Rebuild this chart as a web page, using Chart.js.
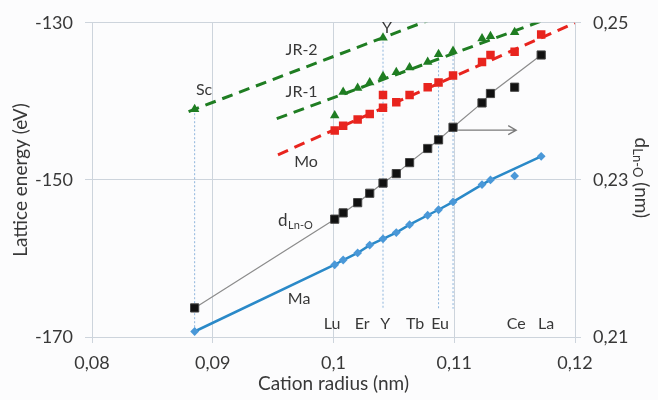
<!DOCTYPE html>
<html><head><meta charset="utf-8">
<script src="https://cdn.jsdelivr.net/npm/chart.js@4"></script>
<style>html,body{margin:0;padding:0;background:#fcfcfd}#c{display:block}</style>
</head><body>
<canvas id="c" width="658" height="400"></canvas>
<script>
// ---- data ----
const radii   = [0.0885,0.1001,0.1008,0.1020,0.1030,0.1041,0.1052,0.1063,0.1078,0.1087,0.1099,0.1123,0.1130,0.1150,0.1172];
const dLnO    = [0.2137,0.2250,0.2258,0.2271,0.2283,0.2296,0.2308,0.2322,0.2340,0.2351,0.2367,0.2398,0.2410,0.2418,0.2459];
const maEnergy= [-169.3,-160.8,-160.2,-159.3,-158.3,-157.5,-156.7,-155.7,-154.5,-153.8,-152.8,-150.6,-150.0,-149.5,-147.0];
const lineOmit = [13]; // point not joined by the connecting lines

const moRadii  = [0.1001,0.1008,0.1020,0.1030,0.1041,0.1041,0.1052,0.1063,0.1078,0.1087,0.1099,0.1123,0.1130,0.1150,0.1172];
const moEnergy = [-143.7,-143.1,-142.3,-141.6,-140.8,-139.2,-140.1,-139.2,-138.2,-137.6,-136.7,-135.0,-134.1,-133.7,-131.5];

const jr1Radii  = [0.1001,0.1008,0.1020,0.1030,0.1041,0.1052,0.1063,0.1078,0.1087,0.1099,0.1123,0.1130,0.1150];
const jr1Energy = [-141.8,-138.8,-138.3,-137.6,-136.8,-136.3,-135.7,-135.0,-134.0,-133.6,-132.0,-131.7,-131.2];

const jr2Radii  = [0.0885,0.1041];
const jr2Energy = [-141.0,-131.9];

// trend lines (end points)
const jr2TrendRadii = [0.0880,0.1200], jr2TrendEnergy = [-141.3,-122.6];
const jr1TrendRadii = [0.0953,0.1200], jr1TrendEnergy = [-142.2,-128.2];
const moTrendRadii  = [0.0954,0.1200], moTrendEnergy  = [-146.8,-130.0];

// dotted guide lines
const guideRadii  = [0.0885,0.1041,0.1087,0.1099];
const guideTop    = [-141.0,-131.9,-134.0,-133.6];
const guideBottom = [-169.3,-166.4,-166.4,-166.4];

// element labels along the bottom
const elementNames = ['Lu','Er','Y','Tb','Eu','Ce','La'];
const elementRadii = [0.09988,0.10237,0.10428,0.10676,0.10883,0.11513,0.11761];

const xTicks = [0.08,0.09,0.10,0.11,0.12];
const yTicks = [-170,-150,-130];
const y2Ticks = [0.21,0.23,0.25];

// ---- helpers ----
const pts = (xs, ys) => xs.map((x,i)=>({x, y: ys[i]}));
const joined = (xs, ys) => pts(xs, ys).filter((p,i)=>!lineOmit.includes(i));
const fmt = v => String(Math.round(v*100)/100).replace('.',',');
const FONT = 'Lato';
const GREEN = '#1f7d22', RED = '#e8241e', BLUE = '#2a89c8', GRID = '#cdd4dc', TXT = '#383838';

const guideSets = guideRadii.map((r,i)=>({
  data:[{x:r,y:guideTop[i]},{x:r,y:guideBottom[i]}], showLine:true, pointRadius:0,
  borderColor:'#8fb6dc', borderWidth:1, borderDash:[2,2], yAxisID:'y'
}));

const datasets = [
  {data: pts(jr2Radii, jr2Energy), pointStyle:'triangle', pointRadius:5.5, backgroundColor:GREEN, borderColor:GREEN, borderWidth:0, yAxisID:'y'},
  {data: pts(jr1Radii, jr1Energy), pointStyle:'triangle', pointRadius:5.5, backgroundColor:GREEN, borderColor:GREEN, borderWidth:0, yAxisID:'y'},
  {data: pts(moRadii, moEnergy), pointStyle:'rect', pointRadius:6, backgroundColor:RED, borderColor:RED, borderWidth:0, yAxisID:'y'},
  {data: pts(radii, dLnO), pointStyle:'rect', pointRadius:5.8, backgroundColor:'#111', borderColor:'#444', borderWidth:1, yAxisID:'y2'},
  {data: pts(radii, maEnergy), pointStyle:'rectRot', pointRadius:4.4, backgroundColor:'#4a98d8', borderColor:'#4a98d8', borderWidth:0, yAxisID:'y'},
  {data: joined(radii, dLnO), showLine:true, pointRadius:0, borderColor:'#8c8c8c', borderWidth:1.2, yAxisID:'y2'},
  {data: joined(radii, maEnergy), showLine:true, pointRadius:0, borderColor:BLUE, borderWidth:2.5, yAxisID:'y'},
  {data: pts(jr2TrendRadii, jr2TrendEnergy), showLine:true, pointRadius:0, borderColor:GREEN, borderWidth:3, borderDash:[11,7], yAxisID:'y'},
  {data: pts(jr1TrendRadii, jr1TrendEnergy), showLine:true, pointRadius:0, borderColor:GREEN, borderWidth:3, borderDash:[11,7], yAxisID:'y'},
  {data: pts(moTrendRadii, moTrendEnergy), showLine:true, pointRadius:0, borderColor:RED, borderWidth:3, borderDash:[11,7], yAxisID:'y'},
  ...guideSets
];

// text annotations in data coordinates
const notes = [
  {t:'JR-2', x:0.09736, y:-133.4},
  {t:'JR-1', x:0.09736, y:-138.8},
  {t:'Mo',   x:0.09773, y:-147.7},
  {t:'Sc',   x:0.08928, y:-138.5},
  {t:'Y',    x:0.10444, y:-130.6},
  {t:'Ma',   x:0.09715, y:-165.2}
];

const annot = {
  id:'annot',
  afterDatasetsDraw(chart){
    const {ctx, scales:{x, y, y2}} = chart;
    ctx.save();
    ctx.fillStyle = TXT;
    ctx.textAlign = 'center'; ctx.textBaseline = 'middle';
    ctx.font = `16px ${FONT}`;
    notes.forEach(n=>ctx.fillText(n.t, x.getPixelForValue(n.x), y.getPixelForValue(n.y)));
    elementNames.forEach((n,i)=>ctx.fillText(n, x.getPixelForValue(elementRadii[i]), y.getPixelForValue(-168.3)));
    // d_Ln-O label
    ctx.textAlign='left'; ctx.textBaseline='alphabetic';
    const lx = x.getPixelForValue(0.09541), ly = y.getPixelForValue(-155.9);
    ctx.font = `17px ${FONT}`; ctx.fillText('d', lx, ly);
    const dw = ctx.measureText('d').width;
    ctx.font = `11px ${FONT}`; ctx.fillText('Ln-O', lx+dw+0.5, ly+3);
    // arrow
    const ax1 = x.getPixelForValue(0.11032), ax2 = x.getPixelForValue(0.11513), ay = y2.getPixelForValue(0.23633);
    ctx.strokeStyle='#7a7a7a'; ctx.lineWidth=1.3;
    ctx.beginPath(); ctx.moveTo(ax1, ay); ctx.lineTo(ax2, ay);
    ctx.moveTo(ax2-8, ay-4.5); ctx.lineTo(ax2, ay); ctx.lineTo(ax2-8, ay+4.5); ctx.stroke();
    ctx.restore();
  },
  afterDraw(chart){
    const {ctx, chartArea} = chart;
    ctx.save();
    ctx.fillStyle = TXT;
    ctx.translate(641, (chartArea.top+chartArea.bottom)/2 - 2);
    ctx.rotate(Math.PI/2);
    const big = `19px ${FONT}`, small = `13px ${FONT}`;
    ctx.font = big; const w1 = ctx.measureText('d').width;
    ctx.font = small; const w2 = ctx.measureText('Ln-O').width;
    ctx.font = big; const w3 = ctx.measureText(' (nm)').width;
    let sx = -(w1+w2+w3)/2;
    ctx.textBaseline='middle'; ctx.textAlign='left';
    ctx.font = big; ctx.fillText('d', sx, 0); sx += w1;
    ctx.font = small; ctx.fillText('Ln-O', sx, 4); sx += w2;
    ctx.font = big; ctx.fillText(' (nm)', sx, 0);
    ctx.restore();
  }
};

new Chart(document.getElementById('c'), {
  type:'scatter',
  data:{datasets},
  options:{
    responsive:false, animation:false,
    layout:{padding:{top:20, left:0, right:0, bottom:0}},
    plugins:{legend:{display:false}, tooltip:{enabled:false}},
    scales:{
      x:{type:'linear', min:0.08, max:0.12,
        afterBuildTicks: s => { s.ticks = xTicks.map(v=>({value:v})); },
        afterFit: s => { s.height = 63; },
        ticks:{callback: v=>fmt(v), font:{family:FONT, size:18}, color:TXT, padding:9, maxRotation:0},
        grid:{color:GRID, tickLength:6, lineWidth:1},
        border:{color:GRID},
        title:{display:true, text:'Cation radius (nm)', font:{family:FONT, size:19}, color:TXT, padding:{top:5,bottom:5}}
      },
      y:{type:'linear', position:'left', min:-170, max:-130,
        afterBuildTicks: s => { s.ticks = yTicks.map(v=>({value:v})); },
        afterFit: s => { s.width = 92; },
        ticks:{font:{family:FONT, size:18}, color:TXT, padding:12},
        grid:{color:GRID, tickLength:7},
        border:{color:GRID},
        title:{display:true, text:'Lattice energy (eV)', font:{family:FONT, size:19}, color:TXT, padding:{top:9,bottom:9}}
      },
      y2:{type:'linear', position:'right', min:0.21, max:0.25,
        afterBuildTicks: s => { s.ticks = y2Ticks.map(v=>({value:v})); },
        afterFit: s => { s.width = 83; },
        ticks:{callback: v=>fmt(v), font:{family:FONT, size:18}, color:TXT, padding:12},
        grid:{drawOnChartArea:false, color:GRID, tickLength:6},
        border:{color:GRID}
      }
    }
  },
  plugins:[annot]
});
</script>
</body></html>
